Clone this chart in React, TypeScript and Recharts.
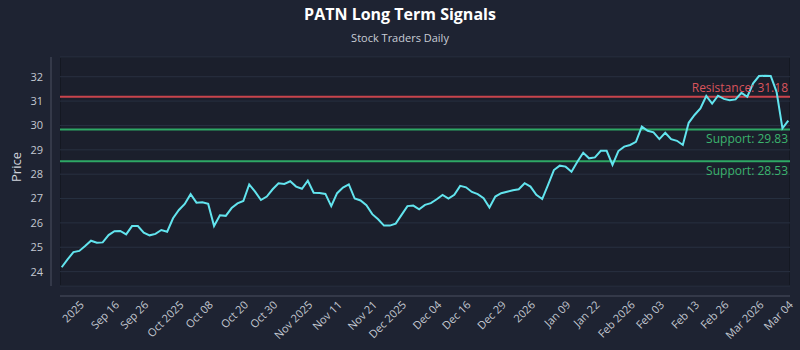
import React from 'react';
import { LineChart, Line, XAxis, YAxis, CartesianGrid, ReferenceLine } from 'recharts';

// daily closes (one per trading session)
const prices = [
  24.18, 24.5, 24.8, 24.85, 25.05, 25.27, 25.19, 25.2, 25.5, 25.66,
  25.67, 25.53, 25.87, 25.87, 25.6, 25.49, 25.55, 25.71, 25.64, 26.19,
  26.53, 26.78, 27.18, 26.83, 26.85, 26.78, 25.87, 26.31, 26.29, 26.61,
  26.8, 26.9, 27.58, 27.28, 26.94, 27.08, 27.38, 27.63, 27.6, 27.71,
  27.49, 27.4, 27.73, 27.24, 27.23, 27.19, 26.69, 27.22, 27.45, 27.58,
  27.0, 26.92, 26.73, 26.36, 26.15, 25.89, 25.89, 25.97, 26.33, 26.69,
  26.71, 26.56, 26.74, 26.81, 26.97, 27.15, 27.0, 27.15, 27.52, 27.46,
  27.27, 27.18, 27.01, 26.63, 27.08, 27.22, 27.28, 27.34, 27.38, 27.63,
  27.49, 27.15, 26.98, 27.56, 28.17, 28.35, 28.31, 28.1, 28.51, 28.88,
  28.65, 28.69, 28.96, 28.96, 28.38, 28.95, 29.13, 29.2, 29.33, 29.95,
  29.78, 29.72, 29.44, 29.7, 29.44, 29.37, 29.2, 30.11, 30.43, 30.7,
  31.21, 30.9, 31.22, 31.09, 31.04, 31.07, 31.34, 31.18, 31.73, 32.03,
  32.04, 32.03, 31.38, 29.88, 30.2,
];

const tickIdx = [3, 9, 14, 20, 25, 31, 36, 42, 47, 53, 58, 64, 69, 75, 80, 86, 91, 97, 102, 108, 113, 119, 124];
const tickLabels = [
  '2025', 'Sep 16', 'Sep 26', 'Oct 2025', 'Oct 08', 'Oct 20', 'Oct 30', 'Nov 2025', 'Nov 11', 'Nov 21',
  'Dec 2025', 'Dec 04', 'Dec 16', 'Dec 29', '2026', 'Jan 09', 'Jan 22', 'Feb 2026', 'Feb 03', 'Feb 13',
  'Feb 26', 'Mar 2026', 'Mar 04',
];
const yTicks = [24, 25, 26, 27, 28, 29, 30, 31, 32];

const resistance = 31.18;
const supports = [29.83, 28.53];

const font = '"Open Sans", "Noto Sans", sans-serif';

export default function App() {
  const data = prices.map((price, i) => ({ i, price }));

  return (
    <div style={{ position: 'absolute', top: 0, left: 0, width: 800, height: 350, background: '#1e2332', fontFamily: font, overflow: 'hidden' }}>
      <div style={{ position: 'absolute', top: 3, width: 800, textAlign: 'center', color: '#ffffff', fontSize: 16, fontWeight: 700 }}>
        PATN Long Term Signals
      </div>
      <div style={{ position: 'absolute', top: 30, width: 800, textAlign: 'center', color: '#c9cdd6', fontSize: 11 }}>
        Stock Traders Daily
      </div>
      <div style={{ position: 'absolute', left: 4, top: 160, width: 24, height: 20, transform: 'rotate(-90deg)', color: '#d0d4dc', fontSize: 13, textAlign: 'center', lineHeight: '20px' }}>
        Price
      </div>
      {/* plot box */}
      <div style={{ position: 'absolute', left: 60, top: 57, width: 730, height: 229, boxSizing: 'border-box', background: '#1b1f2c', border: '1px solid #141822' }} />
      <div style={{ position: 'absolute', top: 0, left: 0 }}>
        <LineChart width={800} height={350} data={data} margin={{ top: 57, right: 10, left: 0, bottom: 0 }}>
          <CartesianGrid vertical={false} stroke="#283040" strokeWidth={1} />
          <XAxis
            type="number"
            dataKey="i"
            domain={[-0.29, 124.29]}
            allowDataOverflow
            ticks={tickIdx}
            interval={0}
            tickFormatter={(v) => tickLabels[tickIdx.indexOf(v)]}
            angle={-45}
            textAnchor="end"
            tick={{ fill: '#c3c8d1', fontSize: 11, fontFamily: font }}
            tickLine={false}
            tickSize={0}
            tickMargin={14}
            height={64}
            axisLine={{ stroke: '#4a5061', transform: 'translate(0,10)' }}
          />
          <YAxis
            domain={[23.41, 32.81]}
            allowDataOverflow
            ticks={yTicks}
            interval={0}
            width={60}
            tick={{ fill: '#c3c8d1', fontSize: 11, fontFamily: font }}
            tickLine={false}
            tickSize={0}
            tickMargin={17}
            axisLine={{ stroke: '#4a5061', transform: 'translate(-9,0)' }}
          />
          <ReferenceLine
            y={resistance}
            stroke="#c9444c"
            strokeWidth={2}
            label={{ value: `Resistance: ${resistance.toFixed(2)}`, position: 'insideBottomRight', offset: 5, dx: 3, fill: '#d9545c', fontSize: 12, fontFamily: font }}
          />
          {supports.map((s) => (
            <ReferenceLine
              key={s}
              y={s}
              stroke="#2ea865"
              strokeWidth={2}
              label={{ value: `Support: ${s.toFixed(2)}`, position: 'insideTopRight', offset: 5, dx: 3, fill: '#3bb46e', fontSize: 12, fontFamily: font }}
            />
          ))}
          <Line type="linear" dataKey="price" stroke="#62e4ee" strokeWidth={2} dot={false} isAnimationActive={false} />
        </LineChart>
      </div>
    </div>
  );
}
